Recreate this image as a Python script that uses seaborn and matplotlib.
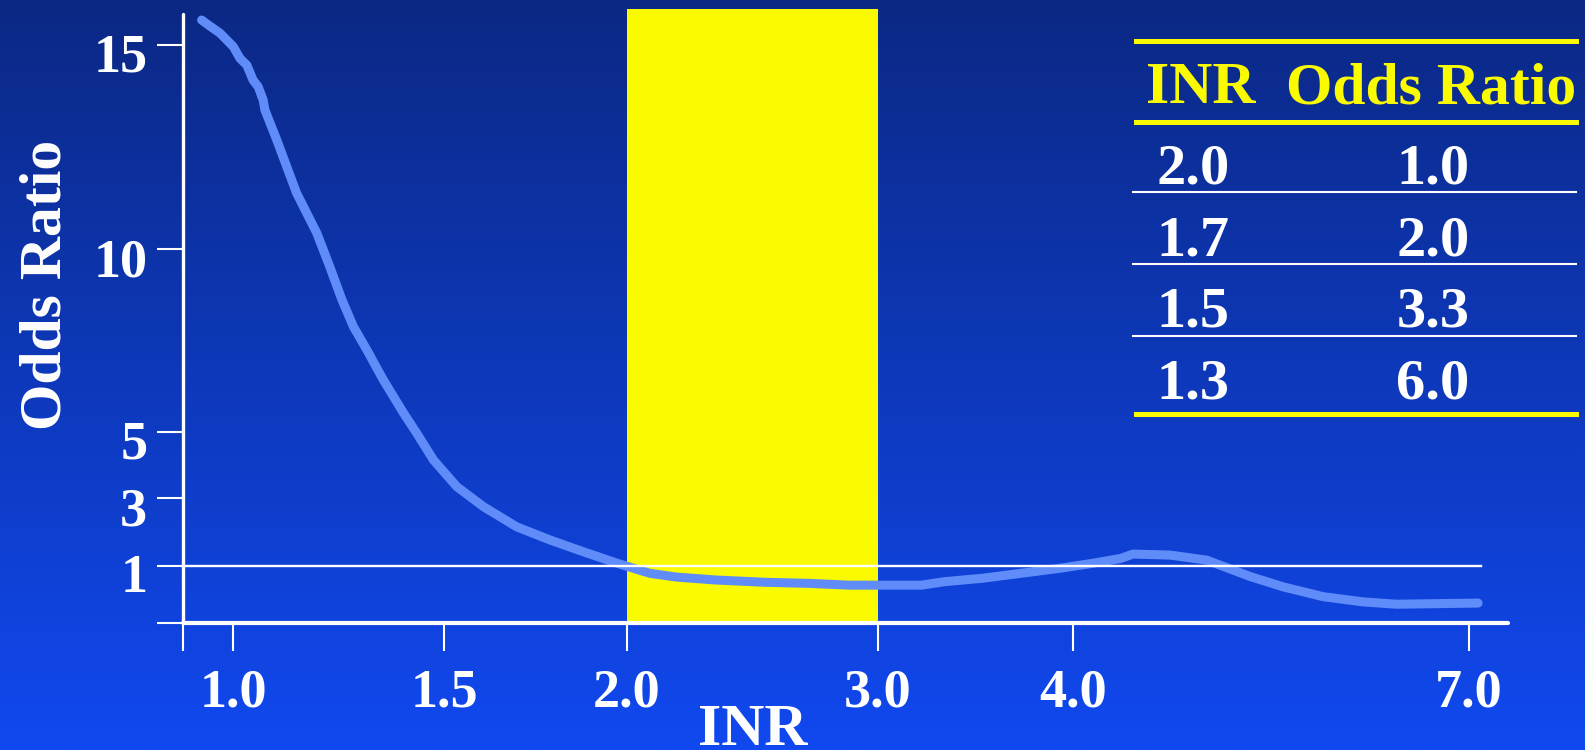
import numpy as np
import pandas as pd
import seaborn as sns
import matplotlib.pyplot as plt
import matplotlib.transforms as mtransforms
from matplotlib.lines import Line2D
from matplotlib.colors import to_rgb

# curve (INR, odds ratio)
inr = [0.924, 0.94, 0.968, 1.0, 1.016, 1.032, 1.047, 1.059, 1.071, 1.075, 1.103,
       1.150, 1.198, 1.229, 1.258, 1.285, 1.317, 1.356, 1.404, 1.435, 1.475, 1.535,
       1.608, 1.699, 1.790, 1.881, 1.973, 2.092, 2.198, 2.351, 2.549, 2.731, 2.884,
       3.223, 3.341, 3.537, 3.733, 3.928, 4.157, 4.36, 4.455, 4.735, 5.013, 5.341,
       5.593, 5.896, 6.199, 6.452, 7.07]
odds_ratio = [15.61, 15.49, 15.29, 14.96, 14.67, 14.51, 14.14, 13.98, 13.65, 13.41, 12.68,
              11.38, 10.40, 9.52, 8.61, 7.88, 7.24, 6.42, 5.51, 4.96, 4.15, 3.35,
              2.75, 2.15, 1.76, 1.41, 1.07, 0.865, 0.80, 0.75, 0.71, 0.69, 0.66,
              0.66, 0.72, 0.78, 0.865, 0.95, 1.07, 1.21, 1.34, 1.31, 1.16, 0.81,
              0.63, 0.46, 0.37, 0.33, 0.35]

x_ticks = [1.0, 1.5, 2.0, 3.0, 4.0, 7.0]
x_tick_labels = ['1.0', '1.5', '2.0', '3.0', '4.0', '7.0']
y_ticks = [1, 3, 5, 10, 15]
y_tick_labels = ['1', '3', '5', '10', '15']
target_range = (2.0, 3.0)

table_inr = ['2.0', '1.7', '1.5', '1.3']
table_or = ['1.0', '2.0', '3.3', '6.0']

# the slide's axes are not evenly spaced: piecewise scales
x_knots = [0.88, 1.0, 1.5, 2.0, 3.0, 4.0, 7.0, 7.3]
x_pos = [0, 50, 260.7, 443.4, 694.7, 889.7, 1285.7, 1324.7]
y_knots = [0, 1, 3, 5, 10, 15, 15.88]
y_pos = [0, 57.8, 125, 191.6, 374, 578.3, 614.3]

W, H = 1585, 750
YELLOW = '#FAFA00'
LINE = '#608CFA'

plt.rcParams['font.family'] = 'Liberation Serif'
plt.rcParams['font.weight'] = 'bold'
plt.rcParams['axes.labelweight'] = 'bold'

fig = plt.figure(figsize=(W / 100, H / 100), dpi=100)

# background gradient
bg = fig.add_axes([0, 0, 1, 1], zorder=-1)
top, bottom = np.array(to_rgb('#0B2884')), np.array(to_rgb('#1149F0'))
t = np.linspace(0, 1, 300)[:, None, None]
bg.imshow(top + (bottom - top) * t, aspect='auto', extent=[0, 1, 0, 1])
bg.axis('off')

ax = fig.add_axes([183.3 / W, (H - 623.3) / H, 1324.7 / W, 614.3 / H])
ax.set_facecolor('none')
ax.set_xscale('function', functions=(lambda v: np.interp(v, x_knots, x_pos),
                                     lambda p: np.interp(p, x_pos, x_knots)))
ax.set_yscale('function', functions=(lambda v: np.interp(v, y_knots, y_pos),
                                     lambda p: np.interp(p, y_pos, y_knots)))

ax.axvspan(*target_range, color=YELLOW, lw=0, zorder=1)
df = pd.DataFrame({'INR': inr, 'Odds Ratio': odds_ratio})
sns.lineplot(data=df, x='INR', y='Odds Ratio', ax=ax, color=LINE, lw=6.5,
             sort=False, estimator=None, solid_capstyle='round',
             solid_joinstyle='round', zorder=2)
ax.axhline(1, xmin=0, xmax=0.9796, color='white', lw=1.7, zorder=3)

ax.set_xlim(0.88, 7.3)
ax.set_ylim(0, 15.88)
ax.set_xticks([0.88] + x_ticks, [''] + x_tick_labels)
ax.set_yticks([0] + y_ticks, [''] + y_tick_labels)

for s in ['top', 'right']:
    ax.spines[s].set_visible(False)
ax.spines['left'].set_bounds(0, 15.76)
ax.spines['left'].set_linewidth(2.4)
ax.spines['bottom'].set_linewidth(3)
for s in ['left', 'bottom']:
    ax.spines[s].set_color('white')
    ax.spines[s].set_capstyle('round')

ax.tick_params(axis='x', length=20.4, width=1.5, color='white', pad=12,
               labelsize=39, labelcolor='white')
ax.tick_params(axis='y', length=18.4, width=1.5, color='white', pad=7.5,
               labelsize=39, labelcolor='white')
shift = mtransforms.ScaledTranslation(0, -0.08, fig.dpi_scale_trans)
for lab in ax.get_yticklabels():
    lab.set_transform(lab.get_transform() + shift)

ax.set_xlabel('INR', fontsize=43, color='white', va='baseline')
ax.xaxis.set_label_coords(0.4301, -0.1975)
ax.set_ylabel('Odds Ratio', fontsize=43, color='white', va='baseline',
              ha='center', rotation=90, rotation_mode='anchor')
ax.yaxis.set_label_coords(-0.0926, 0.5507)

# table in the upper right corner
def fx(px):
    return px / W

def fy(py):
    return 1 - py / H

def rule(py, color, lw, x0=1136):
    fig.add_artist(Line2D([fx(x0), fx(1576)], [fy(py), fy(py)], color=color,
                          lw=lw, transform=fig.transFigure))

rule(40.7, YELLOW, 3.6)
rule(121.7, YELLOW, 3.6)
rule(414, YELLOW, 3.6)
for py in [192, 264, 336]:
    rule(py, 'white', 1.5, x0=1133)

fig.text(fx(1146), fy(103.3), 'INR', color=YELLOW, fontsize=43, va='baseline')
fig.text(fx(1285.5), fy(103.3), 'Odds Ratio', color=YELLOW, fontsize=43,
         va='baseline')
row_base = [183.3, 255, 326.7, 398.3]
for a, b, py in zip(table_inr, table_or, row_base):
    fig.text(fx(1193), fy(py), a, color='white', fontsize=42, ha='center',
             va='baseline')
    fig.text(fx(1433), fy(py), b, color='white', fontsize=42, ha='center',
             va='baseline')

fig.savefig('out.png', dpi=100)
